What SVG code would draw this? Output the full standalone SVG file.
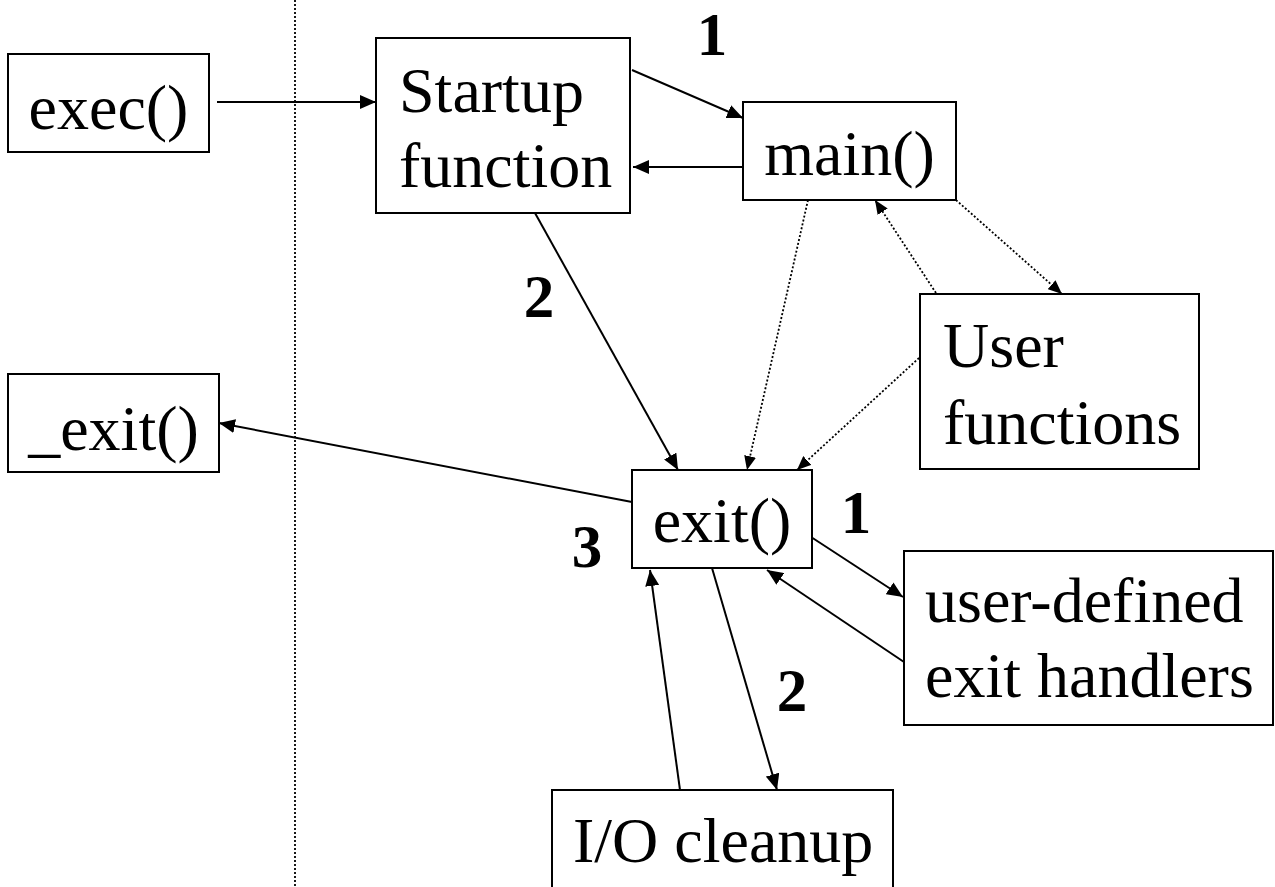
<svg xmlns="http://www.w3.org/2000/svg" width="1275" height="887" viewBox="0 0 1275 887">
<style>
.box{fill:#fff;stroke:#000;stroke-width:2}
.t{font-family:"Liberation Serif","Times New Roman",serif;font-size:64px;fill:#000}
.n{font-family:"Liberation Serif","Times New Roman",serif;font-size:61px;font-weight:bold;fill:#000;text-anchor:middle}
.s{stroke:#000;stroke-width:2;fill:none;marker-end:url(#ah)}
.d{stroke:#000;stroke-width:1.8;fill:none;stroke-dasharray:2 2;marker-end:url(#ahs)}
</style>
<defs>
<marker id="ah" markerUnits="userSpaceOnUse" markerWidth="17" markerHeight="14" refX="16" refY="7" orient="auto"><path d="M0,0 L16,7 L0,14 z" fill="#000"/></marker>
<marker id="ahs" markerUnits="userSpaceOnUse" markerWidth="15" markerHeight="12" refX="14" refY="6" orient="auto"><path d="M0,0 L14,6 L0,12 z" fill="#000"/></marker>
</defs>
<rect width="1275" height="887" fill="#fff"/>
<line x1="295" y1="0" x2="295" y2="887" stroke="#000" stroke-width="1.8" stroke-dasharray="2 2"/>
<g id="connectors">
<line class="s" x1="217" y1="102" x2="376" y2="102"/>
<line class="s" x1="632" y1="70" x2="743" y2="118"/>
<line class="s" x1="743" y1="167" x2="633" y2="167"/>
<line class="s" x1="535" y1="213" x2="678" y2="470"/>
<line class="s" x1="632" y1="502" x2="219" y2="423"/>
<line class="s" x1="808" y1="535" x2="903" y2="597"/>
<line class="s" x1="904" y1="662" x2="767" y2="570"/>
<line class="s" x1="712" y1="568" x2="777" y2="790"/>
<line class="s" x1="680" y1="790" x2="650" y2="570"/>
<line class="d" x1="808" y1="200" x2="747" y2="470"/>
<line class="d" x1="936" y1="293" x2="875" y2="200"/>
<line class="d" x1="956" y1="200" x2="1062" y2="294"/>
<line class="d" x1="919" y1="358" x2="797" y2="470"/>
</g>
<g id="exec"><rect class="box" x="8" y="54" width="201" height="98"/><text class="t" x="108.5" y="129" text-anchor="middle">exec()</text></g>
<g id="startup"><rect class="box" x="376" y="38" width="254" height="175"/><text class="t" x="399" y="112">Startup</text><text class="t" x="399" y="187">function</text></g>
<g id="main"><rect class="box" x="743" y="102" width="213" height="98"/><text class="t" x="849.5" y="175" text-anchor="middle">main()</text></g>
<g id="userfunctions"><rect class="box" x="920" y="294" width="279" height="175"/><text class="t" x="943" y="367">User</text><text class="t" x="943" y="444">functions</text></g>
<g id="_exit"><rect class="box" x="8" y="374" width="211" height="98"/><text class="t" x="113.5" y="450" text-anchor="middle">_exit()</text></g>
<g id="exit"><rect class="box" x="632" y="470" width="180" height="98"/><text class="t" x="722" y="542" text-anchor="middle">exit()</text></g>
<g id="handlers"><rect class="box" x="904" y="551" width="369" height="174"/><text class="t" x="925" y="622">user-defined</text><text class="t" x="925" y="697">exit handlers</text></g>
<g id="iocleanup"><rect class="box" x="552" y="790" width="341" height="110"/><text class="t" x="573" y="862">I/O cleanup</text></g>
<g id="labels">
<text class="n" x="712" y="55" font-size="58">1</text>
<text class="n" x="539" y="317">2</text>
<text class="n" x="856" y="533">1</text>
<text class="n" x="587" y="567">3</text>
<text class="n" x="792" y="711">2</text>
</g>
</svg>
